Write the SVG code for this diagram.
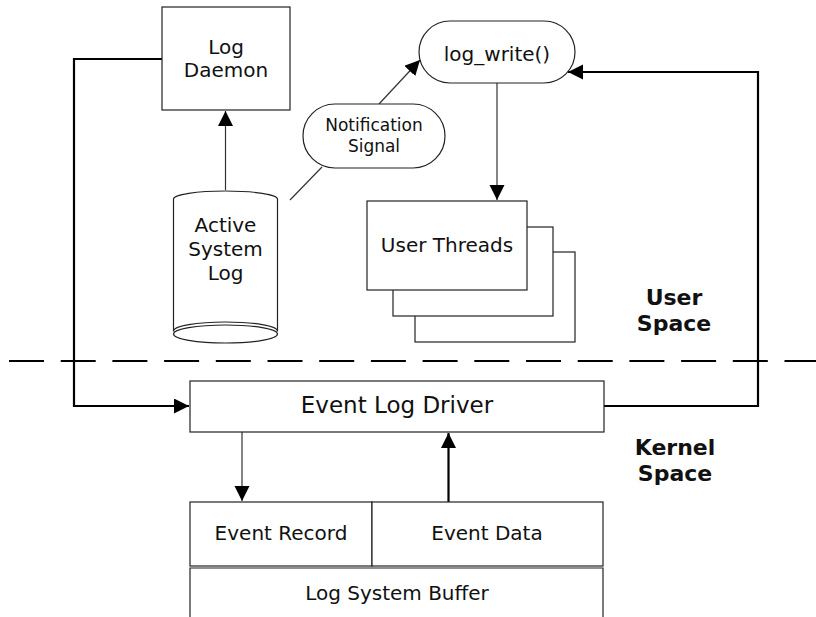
<svg xmlns="http://www.w3.org/2000/svg" width="816" height="617" viewBox="0 0 816 617">
<style>
.s{fill:#fff;stroke:#222;stroke-width:1.2}
.t{font-family:"DejaVu Sans",Verdana,sans-serif;font-size:20px;fill:#111;text-anchor:middle}
.b{font-weight:bold;font-size:22px}
.thin{fill:none;stroke:#333;stroke-width:1.2}
.thick{fill:none;stroke:#000;stroke-width:2.2}
</style>
<defs>
<marker id="ah" markerUnits="userSpaceOnUse" markerWidth="16" markerHeight="16" refX="15" refY="7.5" orient="auto">
<path d="M0,0 L15,7.5 L0,15 z" fill="#000"/>
</marker>
</defs>
<rect width="816" height="617" fill="#fff"/>
<line x1="9" y1="361" x2="816" y2="361" stroke="#000" stroke-width="2" stroke-dasharray="35,16.7"/>
<g id="connectors">
<line class="thin" x1="225.5" y1="190" x2="225.5" y2="111" marker-end="url(#ah)"/>
<line class="thin" x1="290" y1="200" x2="322" y2="167"/>
<line class="thin" x1="379" y1="104" x2="420" y2="60" marker-end="url(#ah)"/>
<line class="thin" x1="497" y1="83" x2="497" y2="200" marker-end="url(#ah)"/>
<polyline class="thick" points="162,59 74,59 74,406 189,406" marker-end="url(#ah)"/>
<polyline class="thick" points="604,406 758,406 758,72 568,72" marker-end="url(#ah)"/>
<line class="thin" x1="242" y1="432" x2="242" y2="501" marker-end="url(#ah)"/>
<line class="thick" x1="448.5" y1="502" x2="448.5" y2="433" marker-end="url(#ah)"/>
</g>
<g id="log-daemon">
<rect class="s" x="162" y="7" width="128" height="103"/>
<text class="t" x="226" y="54">Log</text>
<text class="t" x="226" y="77">Daemon</text>
</g>
<g id="log-write">
<rect class="s" x="419" y="21" width="156" height="62" rx="31" ry="31"/>
<text class="t" x="497" y="61">log_write()</text>
</g>
<g id="notification-signal">
<rect class="s" x="303" y="104" width="142" height="64" rx="32" ry="32"/>
<text class="t" x="374" y="131" style="font-size:17px">Notification</text>
<text class="t" x="374" y="152" style="font-size:17px">Signal</text>
</g>
<g id="active-system-log">
<path class="s" d="M173.5,199 A52,8 0 0 1 277.5,199 L277.5,331 L173.5,331 Z"/>
<path class="s" d="M173.5,331 A52,9 0 0 1 277.5,331"/>
<ellipse class="s" cx="225.5" cy="334" rx="52" ry="9"/>
<text class="t" x="225.5" y="232">Active</text>
<text class="t" x="225.5" y="256">System</text>
<text class="t" x="225.5" y="280">Log</text>
</g>
<g id="user-threads">
<rect class="s" x="415" y="252" width="160" height="90"/>
<rect class="s" x="393" y="227" width="160" height="89"/>
<rect class="s" x="367" y="201" width="160" height="89"/>
<text class="t" x="447" y="252">User Threads</text>
</g>
<g id="user-space">
<text class="t b" x="674" y="305">User</text>
<text class="t b" x="674" y="331">Space</text>
</g>
<g id="kernel-space">
<text class="t b" x="675" y="455">Kernel</text>
<text class="t b" x="675" y="481">Space</text>
</g>
<g id="event-log-driver">
<rect class="s" x="190" y="381" width="414" height="51"/>
<text class="t" x="397" y="413" style="font-size:23px">Event Log Driver</text>
</g>
<g id="event-record">
<rect class="s" x="190" y="502" width="182" height="64"/>
<text class="t" x="281" y="540">Event Record</text>
</g>
<g id="event-data">
<rect class="s" x="372" y="502" width="231" height="64"/>
<text class="t" x="487" y="540">Event Data</text>
</g>
<g id="log-system-buffer">
<path class="s" d="M190,620 L190,568 L603,568 L603,620"/>
<text class="t" x="397" y="600">Log System Buffer</text>
</g>
</svg>
